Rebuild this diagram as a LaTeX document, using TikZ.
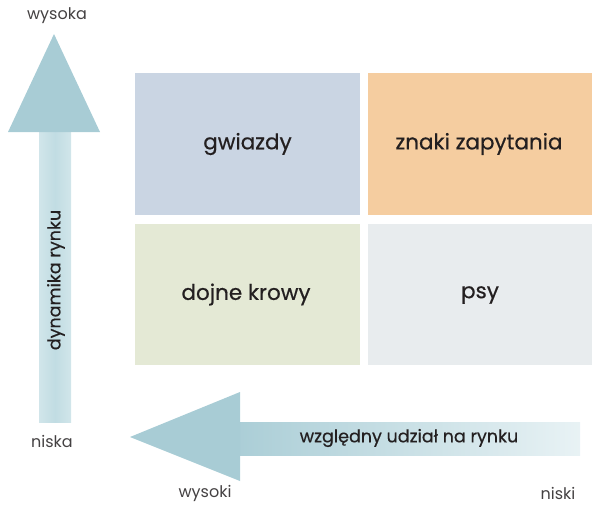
\documentclass[tikz,border=0pt]{standalone}
\usepackage{fontspec}
\setmainfont{Poppins}
\newfontfamily\medfont{Poppins}[FakeBold=0.5]
\usetikzlibrary{shadings}
\definecolor{cstar}{HTML}{CAD5E3}
\definecolor{cq}{HTML}{F5CDA0}
\definecolor{ccow}{HTML}{E4E9D5}
\definecolor{cdog}{HTML}{E8ECEE}
\definecolor{carrow}{HTML}{A8CCD5}
\definecolor{cshaft}{HTML}{C6DFE5}
\definecolor{ctext}{HTML}{231F20}
\tikzset{
  quad/.style={inner sep=0pt, text=ctext, font=\medfont\fontsize{21.5}{24}\selectfont},
  lbl/.style={inner sep=0pt, text=ctext!85, font=\fontsize{16}{18}\selectfont},
  axlbl/.style={inner sep=0pt, text=ctext, font=\medfont\fontsize{17.5}{20}\selectfont},
}
\begin{document}
\begin{tikzpicture}[x=1pt,y=-1pt]
\useasboundingbox (0,0) rectangle (593,506);
% quadrants
\fill[cstar] (135,73) rectangle (360,215);
\fill[cq] (368,73) rectangle (592,215);
\fill[ccow] (135,224) rectangle (360,365);
\fill[cdog] (368,224) rectangle (592,365);
\node[quad] (gw) at (247.5,144) {gwiazdy};
\node[quad] (zn) at (479,144) {znaki zapytania};
\node[quad] (dk) at (246,294.5) {dojne krowy};
\node[quad] (ps) at (480,295) {psy};
% vertical arrow
\shade[left color=cshaft!80!white, right color=cshaft!80!white, middle color=cshaft!85!carrow] (39,128) rectangle (71,422);
\fill[carrow] (54,34) -- (100,132) -- (8,132) -- cycle;
\node[axlbl, rotate=90] (dr) at (56,280) {dynamika rynku};
% horizontal arrow
\shade[left color=carrow!90!cshaft, right color=cshaft!40!white] (238,422) rectangle (580,455);
\fill[carrow] (130,437) -- (240,392) -- (240,481) -- cycle;
\node[axlbl] (wu) at (409,438) {względny udział na rynku};
% labels
\node[lbl] (ws) at (57,16) {wysoka};
\node[lbl] (ni) at (52,441) {niska};
\node[lbl] (wk) at (205,493) {wysoki};
\node[lbl] (nk) at (558,493) {niski};
\end{tikzpicture}
\end{document}
